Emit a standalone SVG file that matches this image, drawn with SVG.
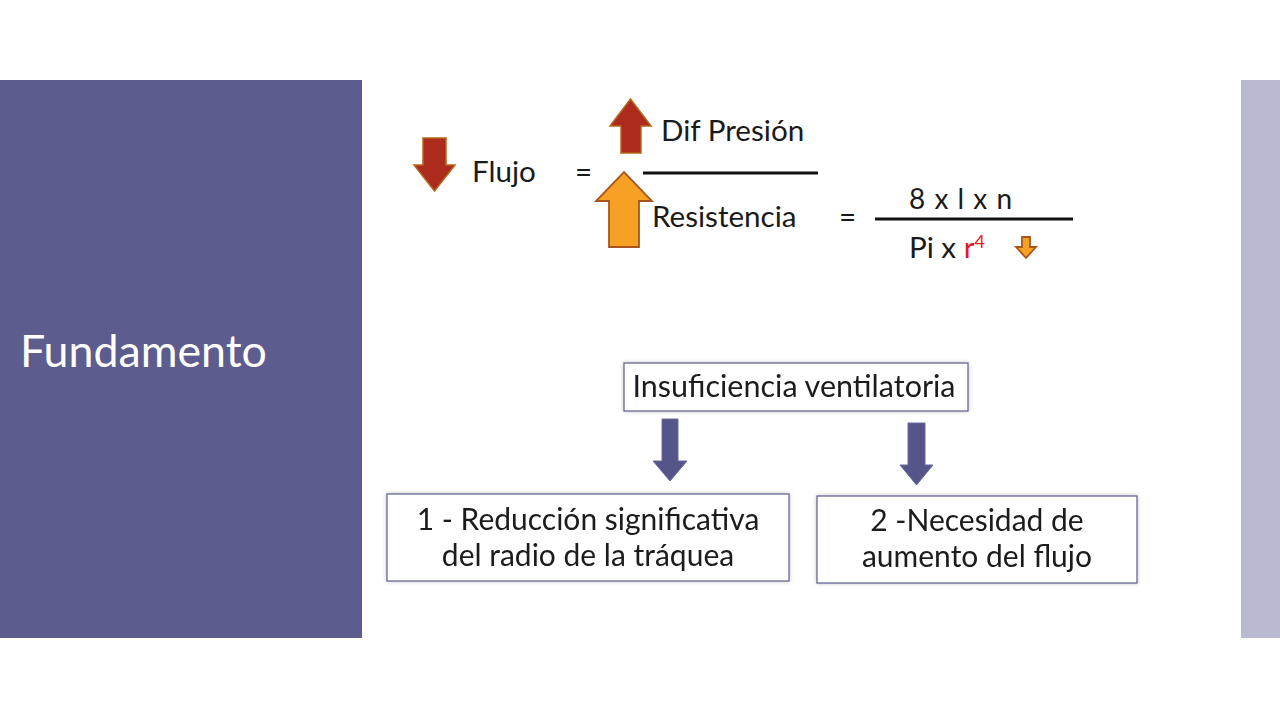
<svg xmlns="http://www.w3.org/2000/svg" width="1280" height="720" viewBox="0 0 1280 720">
<defs>
<style>
.t{font-family:Lato,"Open Sans","Liberation Sans",sans-serif;fill:#1a1a1a}
.f28{font-size:29.6px}
.box{fill:#fff;stroke:#5c5c8e;stroke-width:1.2}
.red{fill:#ac2b1d;stroke:#b5651d;stroke-width:1.5}
.org{fill:#f7a124;stroke:#a6561c;stroke-width:1.8}
.blue{fill:#555589;stroke:#6a6a9c;stroke-width:1}
.ln{stroke:#111;stroke-width:3}
</style>
<filter id="sh" x="-5%" y="-10%" width="110%" height="120%">
<feGaussianBlur in="SourceAlpha" stdDeviation="2"/>
<feOffset dx="0" dy="0"/>
<feComponentTransfer><feFuncA type="linear" slope="0.25"/></feComponentTransfer>
<feMerge><feMergeNode/><feMergeNode in="SourceGraphic"/></feMerge>
</filter>
</defs>
<rect width="1280" height="720" fill="#fff"/>
<rect x="0" y="80" width="362" height="558" fill="#5c5c8e"/>
<rect x="1241" y="80" width="39" height="558" fill="#b9b9d1"/>
<text x="20" y="367" font-family="Lato,'Open Sans','Liberation Sans',sans-serif" font-size="44.7" fill="#fff">Fundamento</text>

<g id="formula">
<polygon class="red" points="423,138 446,138 446,165 455,165 434.5,191 414,165 423,165"/>
<text class="t f28" x="472" y="182">Flujo</text>
<text class="t f28" x="575" y="182">=</text>
<polygon class="red" points="621,153 641,153 641,126 651,126 630.5,99 610,126 621,126"/>
<text class="t f28" x="661" y="141">Dif Presión</text>
<line class="ln" x1="643" y1="173" x2="818" y2="173"/>
<polygon class="org" points="609,247 639,247 639,201 652,201 624,172 596,201 609,201"/>
<text class="t f28" x="652" y="227">Resistencia</text>
<text class="t f28" x="839" y="227">=</text>
<text class="t" font-size="28" x="909" y="209" letter-spacing="1">8 x l x n</text>
<text class="t f28" x="909" y="258">Pi x <tspan fill="#e31b1b">r</tspan><tspan fill="#e31b1b" font-size="18" dy="-10">4</tspan></text>
<polygon class="org" points="1022,237 1030,237 1030,247 1036,247 1026,258 1016,247 1022,247" stroke-width="1.2"/>
<line class="ln" x1="875" y1="219" x2="1073" y2="219"/>
</g>

<g id="n-insuf" filter="url(#sh)">
<rect class="box" x="624" y="363" width="344" height="48"/>
<text class="t" font-size="30.5" x="794" y="397" text-anchor="middle">Insuficiencia ventilatoria</text>
</g>

<g id="connectors">
<polygon class="blue" points="662,419 678,419 678,461 687,461 670,481 653,461 662,461"/>
<polygon class="blue" points="908,423 925,423 925,465 933,465 916.5,485 900,465 908,465"/>
</g>

<g id="n-reduccion" filter="url(#sh)">
<rect class="box" x="387" y="494" width="402" height="87"/>
<text class="t" font-size="30" x="588" y="530" text-anchor="middle">1 - Reducción significativa</text>
<text class="t" font-size="30" x="588" y="566" text-anchor="middle">del radio de la tráquea</text>
</g>

<g id="n-necesidad" filter="url(#sh)">
<rect class="box" x="817" y="496" width="320" height="87"/>
<text class="t" font-size="30" x="977" y="531" text-anchor="middle">2 -Necesidad de</text>
<text class="t" font-size="30" x="977" y="567" text-anchor="middle">aumento del flujo</text>
</g>
</svg>
